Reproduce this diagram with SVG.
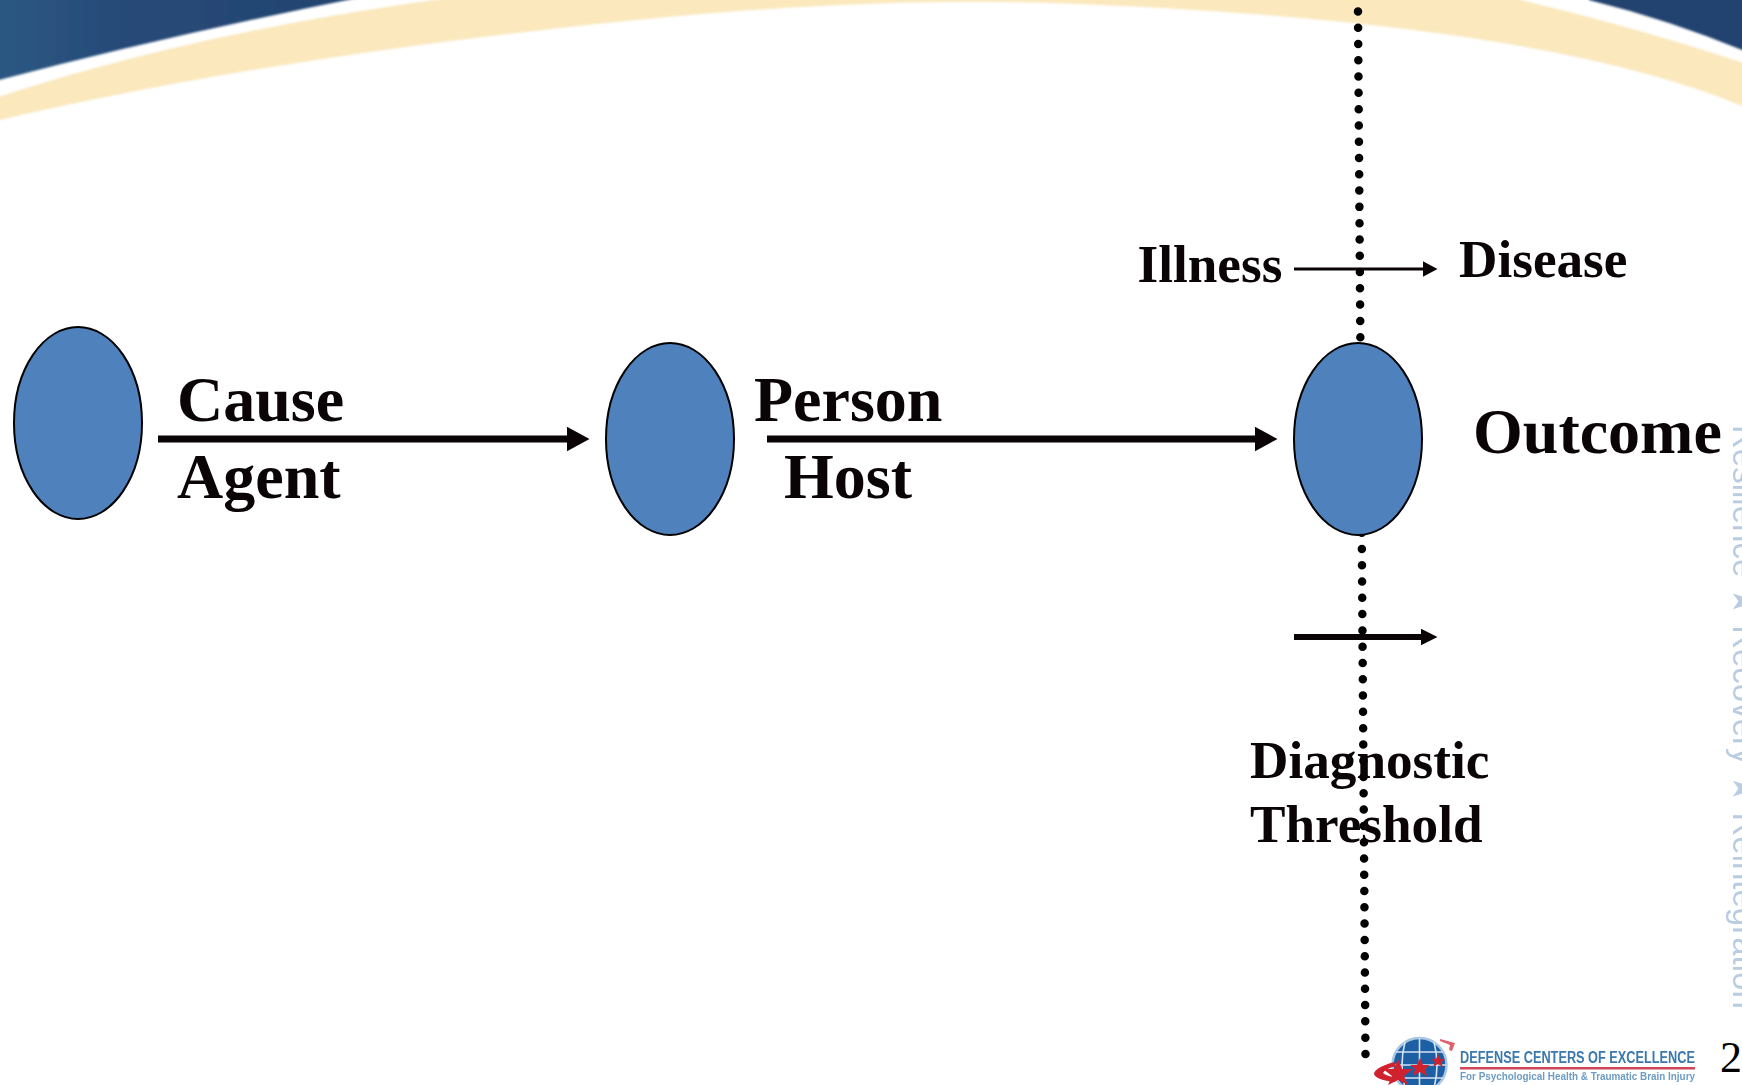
<svg xmlns="http://www.w3.org/2000/svg" width="1742" height="1085" viewBox="0 0 1742 1085">
<style>
.t{font-family:"Liberation Serif","Times New Roman",serif;font-weight:700;fill:#0a0406}
.b{font-size:64px}.m{font-size:53.2px}
.n{fill:#4f81bd;stroke:#000;stroke-width:2}
.a{stroke:#0a0406;fill:none}
</style>
<defs>
<marker id="h1" markerUnits="userSpaceOnUse" markerWidth="24" markerHeight="26" refX="0.5" refY="12.5" orient="auto"><path d="M0 0L23 12.5L0 25Z" fill="#0a0406"/></marker>
<marker id="h2" markerUnits="userSpaceOnUse" markerWidth="16" markerHeight="17" refX="0.5" refY="8" orient="auto"><path d="M0 0L15 8L0 16Z" fill="#0a0406"/></marker>
<marker id="h3" markerUnits="userSpaceOnUse" markerWidth="18" markerHeight="18" refX="0.5" refY="8.500" orient="auto"><path d="M0 0L17 8.500L0 17Z" fill="#0a0406"/></marker>
<linearGradient id="bl" x1="0" x2="1" y1="0" y2="0"><stop offset="0" stop-color="#2c5883"/><stop offset=".35" stop-color="#264a78"/><stop offset="1" stop-color="#23436f"/></linearGradient>
<filter id="soft" x="-5%" y="-5%" width="110%" height="110%"><feGaussianBlur stdDeviation="1.2"/></filter>
<filter id="soft2" x="-5%" y="-5%" width="110%" height="110%"><feGaussianBlur stdDeviation="0.5"/></filter>
</defs>
<rect width="1742" height="1085" fill="#fff"/>
<g id="banner" filter="url(#soft)">
<path d="M-5 -5H372Q170 35 -5 81Z" fill="url(#bl)"/>
<path d="M1589 0Q1670 20 1747 52V-5H1589Z" fill="#23436f"/>
<path d="M-5 98Q200 30 470 -5H1500Q1630 25 1747 64V108Q1540 20 1050 3Q900 -2 700 14Q300 50 -5 121Z" fill="#fbe8bd"/>
</g>
<g id="side-text" filter="url(#soft2)"><text transform="translate(1733 425) rotate(90)" font-family="'Liberation Sans','DejaVu Sans',sans-serif" font-size="33" fill="#b9cce2">Resilience ★ Recovery ★ Reintegration</text></g>
<g id="connectors">
<line x1="1358" y1="11.4" x2="1365.5" y2="1054" stroke="#000" stroke-width="8.5" stroke-linecap="round" stroke-dasharray="0 16.29"/>
<line class="a" x1="158" y1="439" x2="567" y2="439" stroke-width="7" marker-end="url(#h1)"/>
<line class="a" x1="767" y1="439" x2="1255" y2="439" stroke-width="7" marker-end="url(#h1)"/>
<line class="a" x1="1294" y1="269" x2="1423" y2="269" stroke-width="3" marker-end="url(#h2)"/>
<line class="a" x1="1294" y1="637" x2="1421" y2="637" stroke-width="6" marker-end="url(#h3)"/>
</g>
<g id="node-cause"><ellipse class="n" cx="78" cy="423" rx="64" ry="96"/></g>
<g id="node-person"><ellipse class="n" cx="670" cy="439" rx="64" ry="96"/></g>
<g id="node-outcome"><ellipse class="n" cx="1358" cy="439" rx="64" ry="96"/></g>
<g id="labels">
<text class="t b" x="177" y="421">Cause</text>
<text class="t b" x="177" y="497.500">Agent</text>
<text class="t b" x="754" y="421">Person</text>
<text class="t b" x="784" y="497.500">Host</text>
<text class="t b" x="1473" y="453">Outcome</text>
<text class="t m" x="1137.500" y="282">Illness</text>
<text class="t m" x="1459" y="277">Disease</text>
<text class="t m" x="1250" y="778">Diagnostic</text>
<text class="t m" x="1250" y="842">Threshold</text>
</g>
<g id="logo" filter="url(#soft2)">
<circle cx="1419.500" cy="1065" r="27" fill="#1f5fa5" stroke="#a9c6e2" stroke-width="2.500"/>
<path d="M1393 1065H1446M1396 1052H1443M1396 1078H1443M1405 1042Q1399 1065 1405 1088M1419.500 1038V1092M1434 1042Q1440 1065 1434 1088" stroke="#d5e4f2" stroke-width="1.600" fill="none"/>
<path d="M1440 1039L1455 1043L1452 1051L1449 1050L1450 1045L1440 1041Z" fill="#e0606c"/>
<path d="M1394 1062Q1374 1068 1374 1074Q1376 1080 1395 1082L1398 1078Q1386 1076 1383 1073Q1385 1069 1396 1066Z" fill="#d0222f"/>
<path d="M1398 1059L1402 1069L1413 1069L1404 1076L1408 1085L1398 1080L1388 1085L1392 1076L1383 1069L1394 1069Z M1420 1058L1423 1065L1430 1065L1425 1069L1427 1076L1420 1072L1413 1076L1415 1069L1410 1065L1417 1065Z M1438 1054L1440 1059L1445 1059L1441 1062L1443 1067L1438 1064L1433 1067L1435 1062L1431 1059L1436 1059Z" fill="#d0222f"/>
<text x="1460" y="1063" font-family="'Liberation Sans',sans-serif" font-size="16" font-weight="700" fill="#3a78ad" textLength="235" lengthAdjust="spacingAndGlyphs">DEFENSE CENTERS OF EXCELLENCE</text>
<rect x="1460" y="1067" width="235" height="2.500" fill="#d0465a"/>
<text x="1460" y="1080" font-family="'Liberation Sans',sans-serif" font-size="10" font-weight="700" fill="#6d9cc4" textLength="235" lengthAdjust="spacingAndGlyphs">For Psychological Health &amp; Traumatic Brain Injury</text>
</g>
<g id="page-number"><text x="1720" y="1072" font-family="'Liberation Serif',serif" font-size="44" fill="#000">2</text></g>
</svg>
